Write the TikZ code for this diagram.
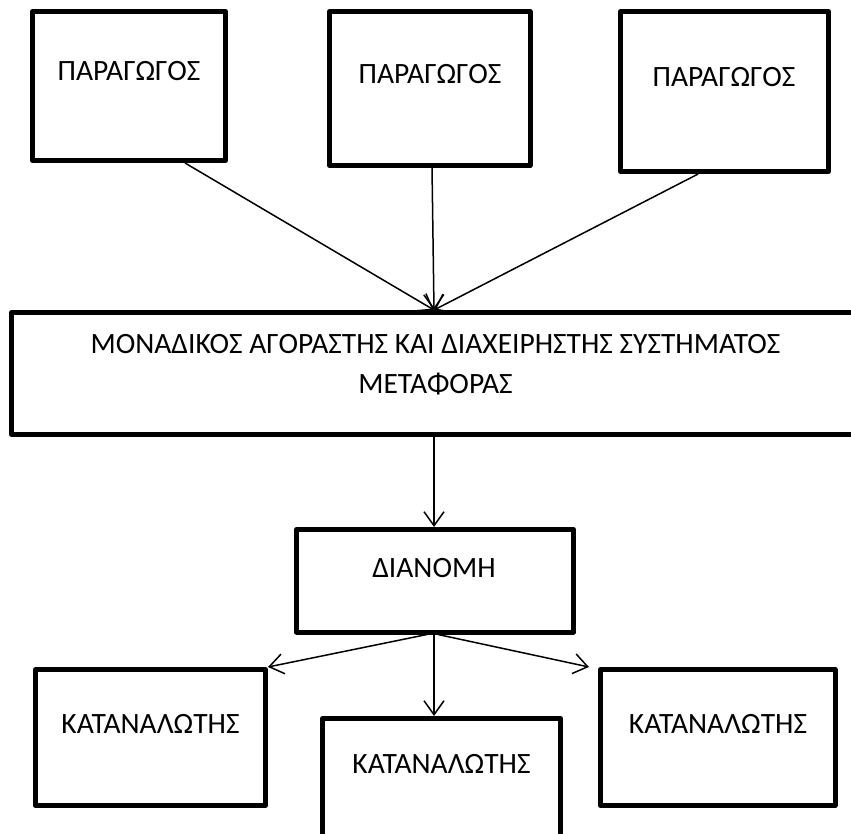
\documentclass[tikz,border=0pt]{standalone}
\usepackage{fontspec}
\setmainfont{Carlito}
\usetikzlibrary{arrows.meta,calc}

\begin{document}
\begin{tikzpicture}[x=1pt,y=-1pt,
  box/.style={draw=black, line width=5pt, line join=round, inner sep=0pt},
  label text/.style={anchor=base, inner sep=0pt, font=\fontsize{29.5}{36}\selectfont},
  conn/.style={draw=black, line width=1.5pt, -{Straight Barb[length=14pt,width=20pt]}}]

\useasboundingbox (0,0) rectangle (851,834);
\clip (0,0) rectangle (851,834);

% producers
\node[box, minimum width=193pt,   minimum height=149pt] (prod1) at (129,86) {};
\node[box, minimum width=200.5pt, minimum height=154pt] (prod2) at (429.75,88.5) {};
\node[box, minimum width=208pt,   minimum height=160pt] (prod3) at (724.5,91.5) {};
\node[label text] (prod1t) at (129,81) {ΠΑΡΑΓΩΓΟΣ};
\node[label text] (prod2t) at (430,84) {ΠΑΡΑΓΩΓΟΣ};
\node[label text] (prod3t) at (724,87) {ΠΑΡΑΓΩΓΟΣ};

% single buyer and transmission system operator
\node[box, minimum width=844.6pt, minimum height=122pt] (buyer) at (434,373.5) {};
\node[label text] (buyert1) at (435.5,353) {ΜΟΝΑΔΙΚΟΣ ΑΓΟΡΑΣΤΗΣ ΚΑΙ ΔΙΑΧΕΙΡΗΣΤΗΣ ΣΥΣΤΗΜΑΤΟΣ};
\node[label text] (buyert2) at (435.5,393) {ΜΕΤΑΦΟΡΑΣ};

% distribution
\node[box, minimum width=277pt, minimum height=102.5pt] (dist) at (435,580.75) {};
\node[label text] (distt) at (434,577) {ΔΙΑΝΟΜΗ};

% consumers
\node[box, minimum width=230pt,   minimum height=136pt]   (cons1) at (150.5,737.5) {};
\node[box, minimum width=238pt,   minimum height=161.5pt] (cons2) at (441.5,799.25) {};
\node[box, minimum width=234.5pt, minimum height=136pt]   (cons3) at (717.75,737.5) {};
\node[label text] (cons1t) at (150.5,733) {ΚΑΤΑΝΑΛΩΤΗΣ};
\node[label text] (cons2t) at (441.5,773) {ΚΑΤΑΝΑΛΩΤΗΣ};
\node[label text] (cons3t) at (718,733) {ΚΑΤΑΝΑΛΩΤΗΣ};

% connectors
\draw[conn] ($(prod1.south west)!0.783!(prod1.south east)$) -- (buyer.north);
\draw[conn] ($(prod2.south west)!0.511!(prod2.south east)$) -- (buyer.north);
\draw[conn] ($(prod3.south west)!0.376!(prod3.south east)$) -- (buyer.north);
\draw[conn] (buyer.south) -- (buyer.south |- dist.north);
\draw[conn] ([xshift=-8pt]dist.south) -- (cons1.north east);
\draw[conn] ([xshift=-1pt]dist.south) -- ([xshift=-1pt]dist.south |- cons2.north);
\draw[conn] ([xshift=3pt]dist.south) -- ([xshift=-9pt]cons3.north west);

\end{tikzpicture}
\end{document}
